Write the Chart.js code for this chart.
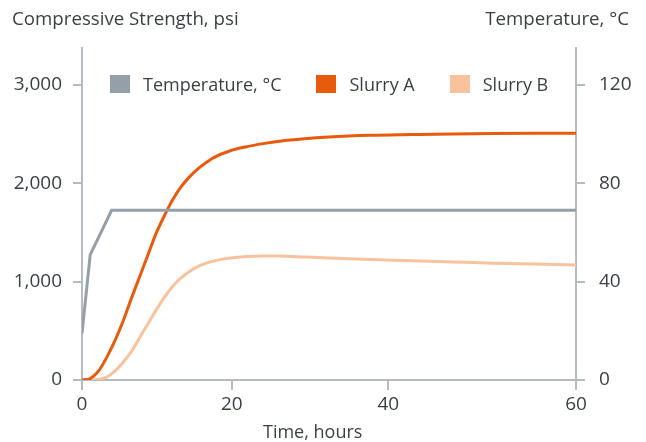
<!DOCTYPE html>
<html>
<head>
<meta charset="utf-8">
<script src="https://cdn.jsdelivr.net/npm/chart.js@4/dist/chart.umd.min.js"></script>
<style>
  html, body { margin: 0; padding: 0; background: #fff; }
  #wrap { position: relative; width: 646px; height: 442px; font-family: "Open Sans", sans-serif; color: #3a3f44; }
  .axis-title { position: absolute; font-size: 18.7px; line-height: 24px; white-space: nowrap; }
  #leftTitle { left: 12px; top: 6px; }
  #rightTitle { right: 17px; top: 6px; }
  #xTitle { left: 263px; top: 419px; font-size: 18px; }
  #legend { position: absolute; left: 110px; top: 73px; display: flex; font-size: 18px; line-height: 22px; white-space: nowrap; }
  .item { display: flex; align-items: center; margin-right: 35px; }
  .swatch { width: 20px; height: 18px; margin-right: 13px; }
</style>
</head>
<body>
<div id="wrap">
  <canvas id="myChart" width="646" height="442"></canvas>
  <div class="axis-title" id="leftTitle">Compressive Strength, psi</div>
  <div class="axis-title" id="rightTitle">Temperature, °C</div>
  <div class="axis-title" id="xTitle">Time, hours</div>
  <div id="legend"></div>
</div>
<script>
const hours = [0, 1, 2, 3, 4, 5, 6, 7, 8, 9, 10, 11, 12, 13, 14, 15, 16, 18, 20, 22, 24, 27, 30, 35, 40, 45, 50, 55, 60];
const slurryA = [0, 15, 90, 230, 400, 600, 830, 1050, 1270, 1490, 1670, 1830, 1960, 2060, 2140, 2205, 2260, 2330, 2372, 2403, 2428, 2453, 2470, 2487, 2495, 2502, 2506, 2508, 2508];
const slurryB = [0, 0, 5, 30, 90, 180, 290, 430, 570, 710, 840, 950, 1035, 1100, 1150, 1185, 1210, 1240, 1255, 1260, 1260, 1250, 1240, 1225, 1212, 1200, 1188, 1178, 1168];
const tempHours = [0, 1, 3.6, 60];
const temperature = [19, 51, 69, 69];

// the source axis spaces its time ticks unevenly; positions
const xTickPositions = [0, 18.2, 37.2, 60];
const xTickLabels = ["0", "20", "40", "60"];
const strengthTicks = [0, 1000, 2000, 3000];
const tempTicks = [0, 40, 80, 120];

const toPoints = (xs, ys) => xs.map((x, i) => ({ x: x, y: ys[i] }));
const setTicks = (values) => (scale) => {
  scale.ticks = values.map((v) => ({ value: v }));
};

const textColor = "#3a3f44";
const axisColor = "#b4bbc1";
Chart.defaults.font.family = '"Open Sans", sans-serif';
Chart.defaults.font.size = 19;
Chart.defaults.color = textColor;

const elementChart = document.querySelector("#myChart");

const data = {
  datasets: [
    {
      label: "Temperature, °C",
      data: toPoints(tempHours, temperature),
      yAxisID: "y1",
      borderColor: "#959fa7",
      backgroundColor: "#959fa7",
      borderWidth: 3,
      pointRadius: 0,
      tension: 0,
    },
    {
      label: "Slurry A",
      data: toPoints(hours, slurryA),
      yAxisID: "y",
      borderColor: "#e85a0c",
      backgroundColor: "#e85a0c",
      borderWidth: 3,
      pointRadius: 0,
      cubicInterpolationMode: "monotone",
    },
    {
      label: "Slurry B",
      data: toPoints(hours, slurryB),
      yAxisID: "y",
      borderColor: "#f9c29d",
      backgroundColor: "#f9c29d",
      borderWidth: 3,
      pointRadius: 0,
      cubicInterpolationMode: "monotone",
    },
  ],
};

const axisGrid = (len) => ({ drawOnChartArea: false, tickLength: len, color: axisColor, lineWidth: 2 });

const configChart = {
  type: "line",
  data: data,
  options: {
    responsive: false,
    animation: false,
    layout: { padding: { top: 48, left: 0, right: 0, bottom: 0 } },
    plugins: {
      tooltip: { enabled: false },
      legend: { display: false },
    },
    scales: {
      x: {
        type: "linear",
        min: 0,
        max: 60,
        afterBuildTicks: setTicks(xTickPositions),
        ticks: {
          padding: 3,
          callback: (value, index) => xTickLabels[index],
        },
        grid: axisGrid(10),
        border: { color: axisColor, width: 2 },
        afterFit: (s) => { s.height = 62; },
      },
      y: {
        position: "left",
        min: 0,
        max: 3375,
        afterBuildTicks: setTicks(strengthTicks),
        ticks: { padding: 11 },
        grid: axisGrid(9),
        border: { color: axisColor, width: 2 },
        afterFit: (s) => { s.width = 82; },
      },
      y1: {
        position: "right",
        min: 0,
        max: 135,
        afterBuildTicks: setTicks(tempTicks),
        ticks: { padding: 14 },
        grid: axisGrid(9),
        border: { color: axisColor, width: 2 },
        afterFit: (s) => { s.width = 70; },
      },
    },
  },
};

const myChart = new Chart(elementChart, configChart);

// legend drawn as html so it can sit inside the plot area
const legendEl = document.querySelector("#legend");
myChart.data.datasets.forEach((ds) => {
  const item = document.createElement("div");
  item.className = "item";
  const sw = document.createElement("span");
  sw.className = "swatch";
  sw.style.background = ds.borderColor;
  const txt = document.createElement("span");
  txt.textContent = ds.label;
  item.appendChild(sw);
  item.appendChild(txt);
  legendEl.appendChild(item);
});
</script>
</body>
</html>
